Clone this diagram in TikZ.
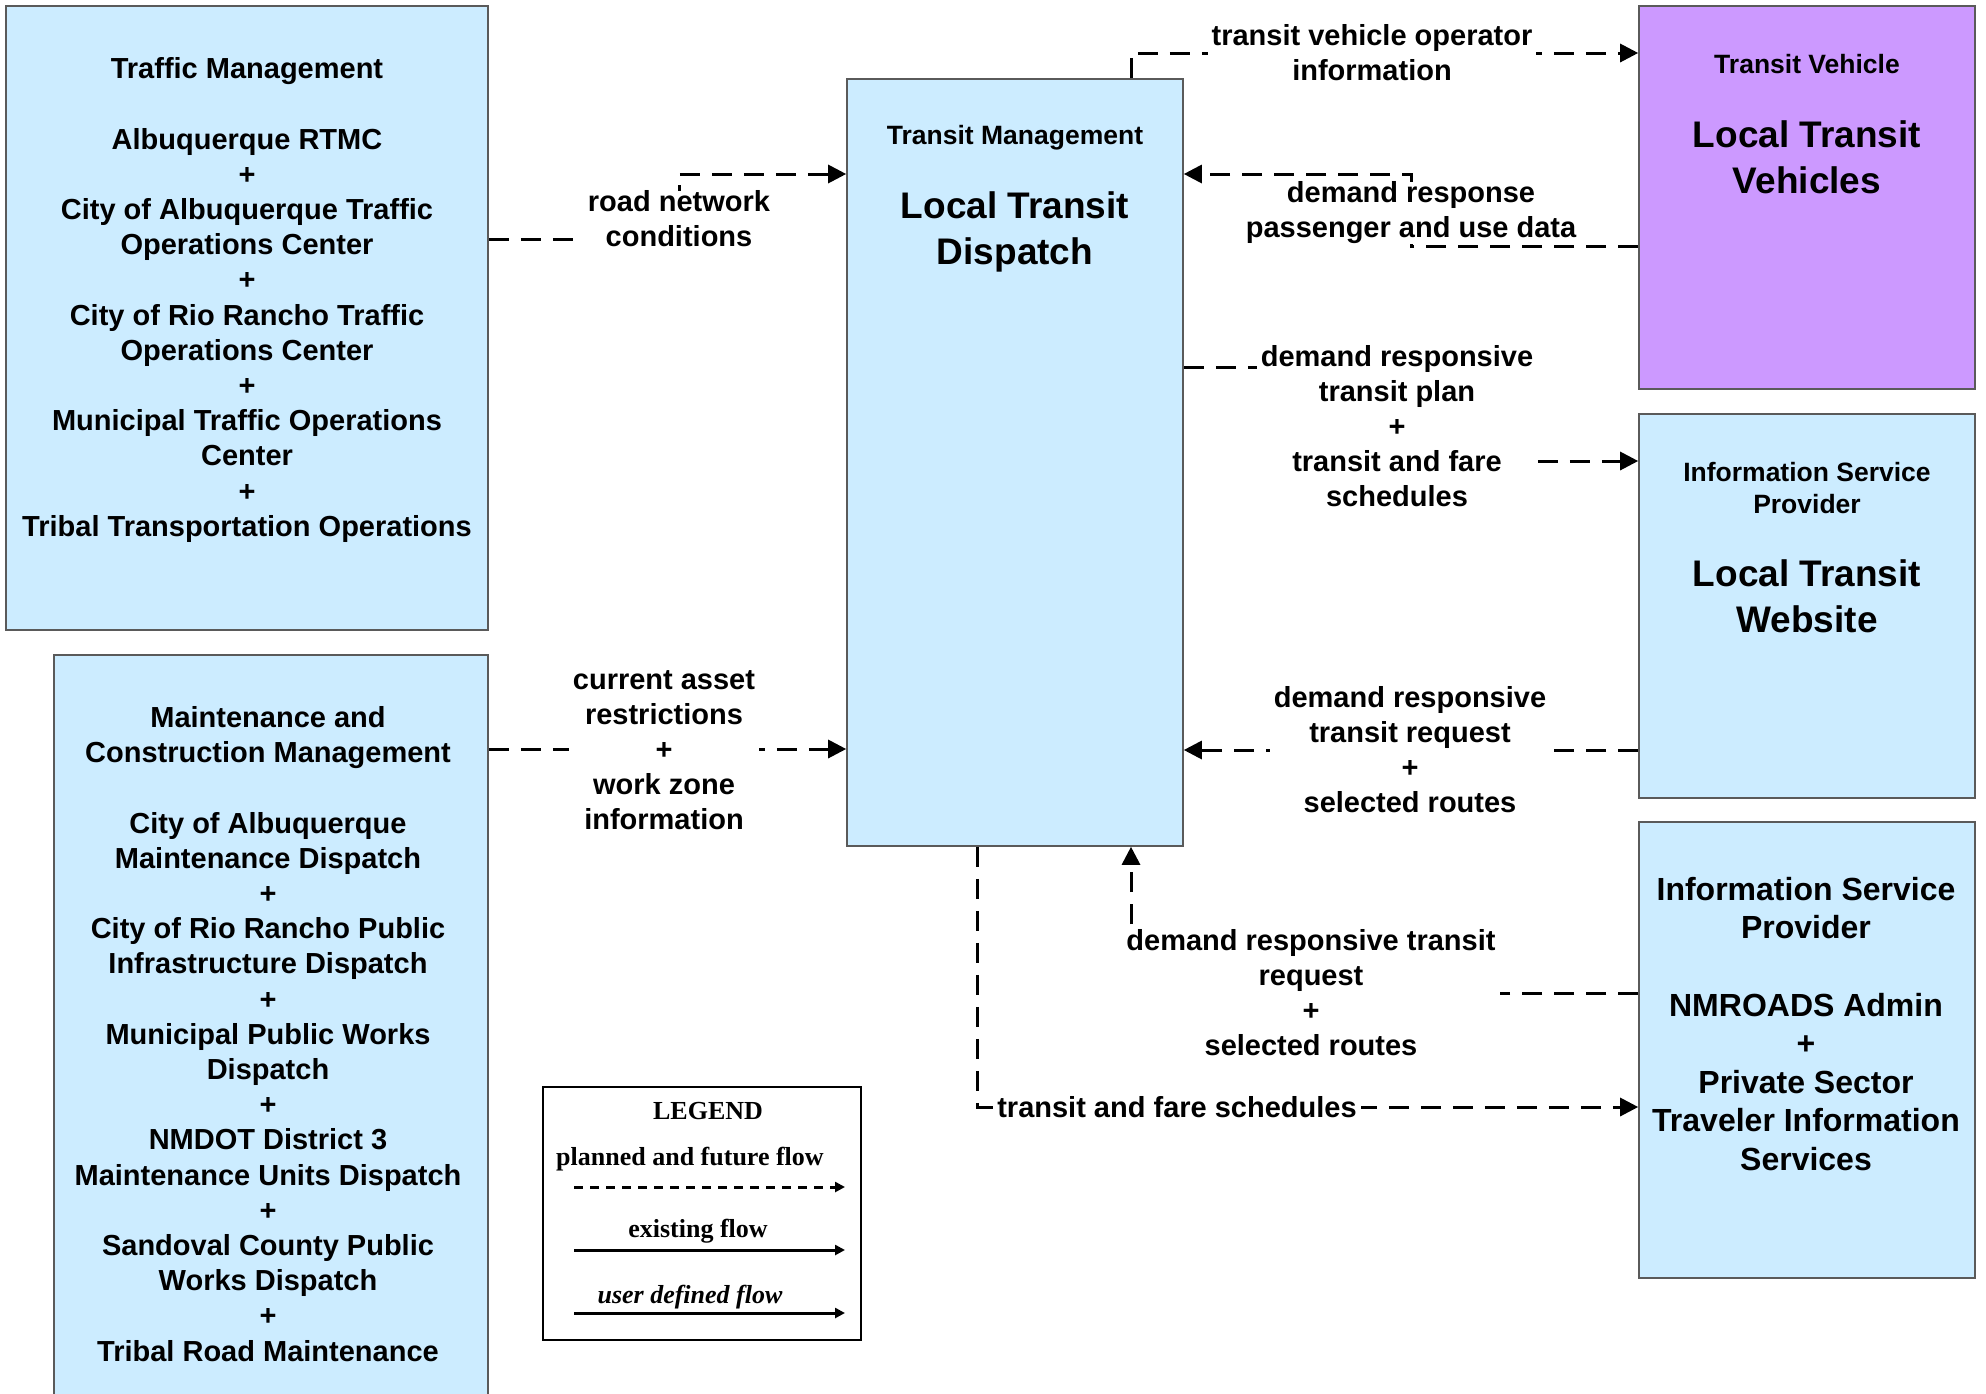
\documentclass[tikz,border=0pt]{standalone}
\usepackage{fontspec}
\setmainfont{Liberation Sans}
\newfontfamily\legfont{Liberation Serif}
\usetikzlibrary{arrows.meta}
\definecolor{boxblue}{RGB}{204,236,255}
\definecolor{boxpurple}{RGB}{204,153,255}
\definecolor{boxedge}{RGB}{90,90,90}
\begin{document}
\begin{tikzpicture}[x=0.5pt,y=-0.5pt,
  box/.style={draw=boxedge, line width=0.8pt, rectangle, inner sep=0pt},
  bluebox/.style={box, fill=boxblue},
  purplebox/.style={box, fill=boxpurple},
  bodytxt/.style={align=center, font=\fontsize{14.5}{17.6}\selectfont\bfseries, inner sep=0pt},
  smalltxt/.style={align=center, font=\fontsize{13.25}{16}\selectfont\bfseries, inner sep=0pt},
  bigtxt/.style={align=center, font=\fontsize{18.5}{23}\selectfont\bfseries, inner sep=0pt},
  isptxt/.style={align=center, font=\fontsize{16}{19.3}\selectfont\bfseries, inner sep=0pt},
  flowlbl/.style={align=center, font=\fontsize{14.5}{17.5}\selectfont\bfseries, fill=white, inner xsep=2pt, inner ysep=0pt},
  flow/.style={line width=1.5pt, dash pattern=on 10pt off 6pt, -{Triangle[length=9pt,width=9pt]}},
  legtxt/.style={font=\legfont\fontsize{13}{15}\selectfont\bfseries, inner sep=0pt},
  legdash/.style={line width=1.5pt, dash pattern=on 4.5pt off 3.5pt, -{Triangle[length=5pt,width=5pt]}},
  legsolid/.style={line width=1.5pt, -{Triangle[length=5pt,width=5pt]}}
]
\clip (0,0) rectangle (1986,1393);
\fill[white] (0,0) rectangle (1986,1393);

% ---------- boxes ----------
\node[bluebox, minimum width=241pt, minimum height=312pt] (tm) at (247,318) {};
\node[bodytxt] (tmt) at (247,300) {Traffic Management\\[17.6pt]Albuquerque RTMC\\+\\City of Albuquerque Traffic\\Operations Center\\+\\City of Rio Rancho Traffic\\Operations Center\\+\\Municipal Traffic Operations\\Center\\+\\Tribal Transportation Operations};

\node[bluebox, minimum width=217pt, minimum height=382.5pt] (mc) at (271,1037.5) {};
\node[bodytxt] (mct) at (268,1034) {Maintenance and\\Construction Management\\[17.6pt]City of Albuquerque\\Maintenance Dispatch\\+\\City of Rio Rancho Public\\Infrastructure Dispatch\\+\\Municipal Public Works\\Dispatch\\+\\NMDOT District 3\\Maintenance Units Dispatch\\+\\Sandoval County Public\\Works Dispatch\\+\\Tribal Road Maintenance};

\node[bluebox, minimum width=168pt, minimum height=383.5pt] (ltd) at (1015,462.5) {};
\node[smalltxt] (ltds) at (1015,138) {Transit Management};
\node[bigtxt] (ltdb) at (1015,232) {Local Transit\\Dispatch};

\node[purplebox, minimum width=168pt, minimum height=191.5pt] (tv) at (1807,197.5) {};
\node[smalltxt] (tvs) at (1807,64) {Transit Vehicle};
\node[bigtxt] (tvb) at (1807,157) {Local Transit\\Vehicles};

\node[bluebox, minimum width=168pt, minimum height=192pt] (isp1) at (1807,606) {};
\node[smalltxt] (isp1s) at (1807,488) {Information Service\\Provider};
\node[bigtxt] (isp1b) at (1807,596) {Local Transit\\Website};

\node[bluebox, minimum width=168pt, minimum height=228pt] (isp2) at (1807,1050) {};
\node[isptxt] (isp2t) at (1806,1024) {Information Service\\Provider\\[19.3pt]NMROADS Admin\\+\\Private Sector\\Traveler Information\\Services};

% ---------- flows ----------
\draw[flow] (tm.east |- 0,239) -| (679,174) -- (ltd.west |- 0,174);
\draw[flow] (ltd.north -| 1131,0) -- (1131,53) -- (tv.west |- 0,53);
\draw[flow] (tv.west |- 0,246) -| (1411,174) -- (ltd.east |- 0,174);
\draw[flow] (ltd.east |- 0,367) -| (1397,461) -- (isp1.west |- 0,461);
\draw[flow] (isp1.west |- 0,750) -- (ltd.east |- 0,750);
\draw[flow] (mc.east |- 0,749) -- (ltd.west |- 0,749);
\draw[flow] (isp2.west |- 0,993) -| (ltd.south -| 1131,0);
\draw[flow] (ltd.south -| 977,0) |- (isp2.west |- 0,1107);

% ---------- flow labels ----------
\node[flowlbl] (l1) at (679,219) {road network\\conditions};
\node[flowlbl] (l2) at (1372,53) {transit vehicle operator\\information};
\node[flowlbl] (l3) at (1411,213) {demand response\\passenger and use data};
\node[flowlbl] (l4) at (1397,426) {demand responsive\\transit plan\\+\\transit and fare\\schedules};
\node[flowlbl] (l5) at (1410,750) {demand responsive\\transit request\\+\\selected routes};
\node[flowlbl] (l6) at (664,750) {current asset\\restrictions\\+\\work zone\\information};
\node[flowlbl] (l7) at (1311,993) {demand responsive transit\\request\\+\\selected routes};
\node[flowlbl] (l8) at (1177,1107) {transit and fare schedules};

% ---------- legend ----------
\node[draw=black, line width=0.8pt, fill=white, minimum width=159pt, minimum height=126.5pt, inner sep=0pt] (leg) at (702,1213.5) {};
\node[legtxt] (legt) at (708,1111) {LEGEND};
\node[legtxt] (leg1) at (690,1159) {planned and future flow};
\coordinate (lg1a) at (574,1187);
\coordinate (lg1b) at (845,1187);
\draw[legdash] (lg1a) -- (lg1b);
\node[legtxt] (leg2) at (698,1231) {existing flow};
\coordinate (lg2a) at (574,1250);
\coordinate (lg2b) at (845,1250);
\draw[legsolid] (lg2a) -- (lg2b);
\node[legtxt, font=\legfont\fontsize{13}{15}\selectfont\bfseries\itshape] (leg3) at (690,1297) {user defined flow};
\coordinate (lg3a) at (574,1313);
\coordinate (lg3b) at (845,1313);
\draw[legsolid] (lg3a) -- (lg3b);
\end{tikzpicture}
\end{document}
